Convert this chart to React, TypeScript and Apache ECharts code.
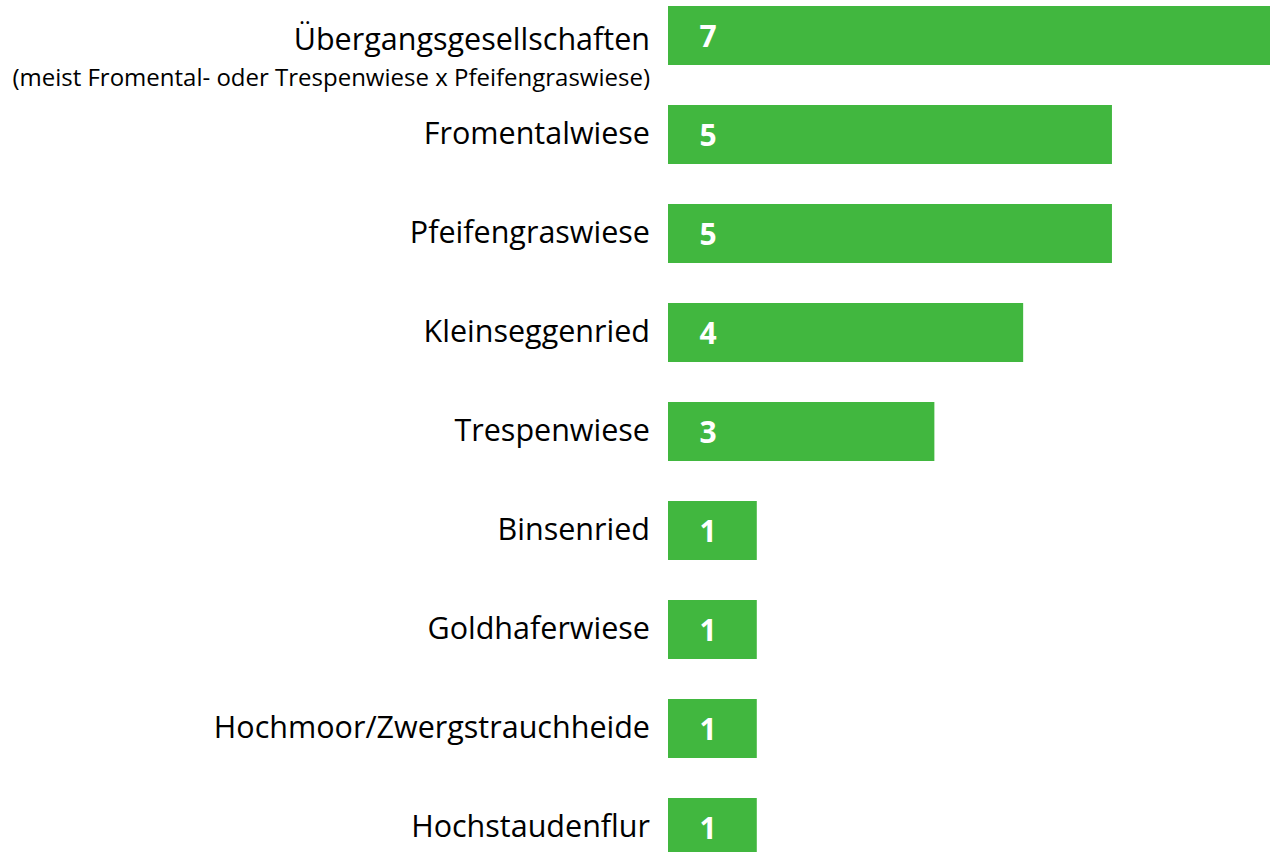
import React, { useEffect, useRef } from "react";
import * as echarts from "echarts";

const categories = [
  "Übergangsgesellschaften",
  "Fromentalwiese",
  "Pfeifengraswiese",
  "Kleinseggenried",
  "Trespenwiese",
  "Binsenried",
  "Goldhaferwiese",
  "Hochmoor/Zwergstrauchheide",
  "Hochstaudenflur",
];
const subtitleFirst = "(meist Fromental- oder Trespenwiese x Pfeifengraswiese)";
const values = [7, 5, 5, 4, 3, 1, 1, 1, 1];

const FONT = "'Open Sans', 'Noto Sans', sans-serif";

export default function App() {
  const ref = useRef<HTMLDivElement>(null);
  useEffect(() => {
    if (!ref.current) return;
    const chart = echarts.init(ref.current, null, { renderer: "svg" });
    chart.setOption({
      animation: false,
      backgroundColor: "#ffffff",
      grid: { left: 668, right: 0, top: 0, bottom: 0, containLabel: false },
      xAxis: {
        type: "value",
        min: 0,
        max: 6.78,
        show: false,
      },
      yAxis: {
        type: "category",
        inverse: true,
        data: categories,
        axisLine: { show: false },
        axisTick: { show: false },
        splitLine: { show: false },
        axisLabel: {
          margin: 18,
          padding: [0, 0, 5, 0],
          color: "#000000",
          fontFamily: FONT,
          fontSize: 30,
          formatter: (v: string, i: number) =>
            i === 0 ? `{p| }\n{a|${v}}\n{b|${subtitleFirst}}` : `{a|${v}}`,
          rich: {
            p: { lineHeight: 49, fontSize: 10 },
            a: { fontFamily: FONT, fontSize: 30.5, color: "#000", lineHeight: 38 },
            b: { fontFamily: FONT, fontSize: 24, color: "#000", lineHeight: 40 },
          },
        },
      },
      series: [
        {
          type: "bar",
          data: values,
          barWidth: 59,
          clip: true,
          itemStyle: { color: "#41b73f" },
          label: {
            show: true,
            position: [40, "50%"],
            align: "center",
            verticalAlign: "middle",
            color: "#ffffff",
            fontFamily: FONT,
            fontWeight: "bold",
            fontSize: 30,
          },
        },
      ],
    });
    return () => chart.dispose();
  }, []);
  return (
    <div
      ref={ref}
      style={{ position: "fixed", left: 0, top: -13.9, width: 1270, height: 891.4 }}
    />
  );
}
